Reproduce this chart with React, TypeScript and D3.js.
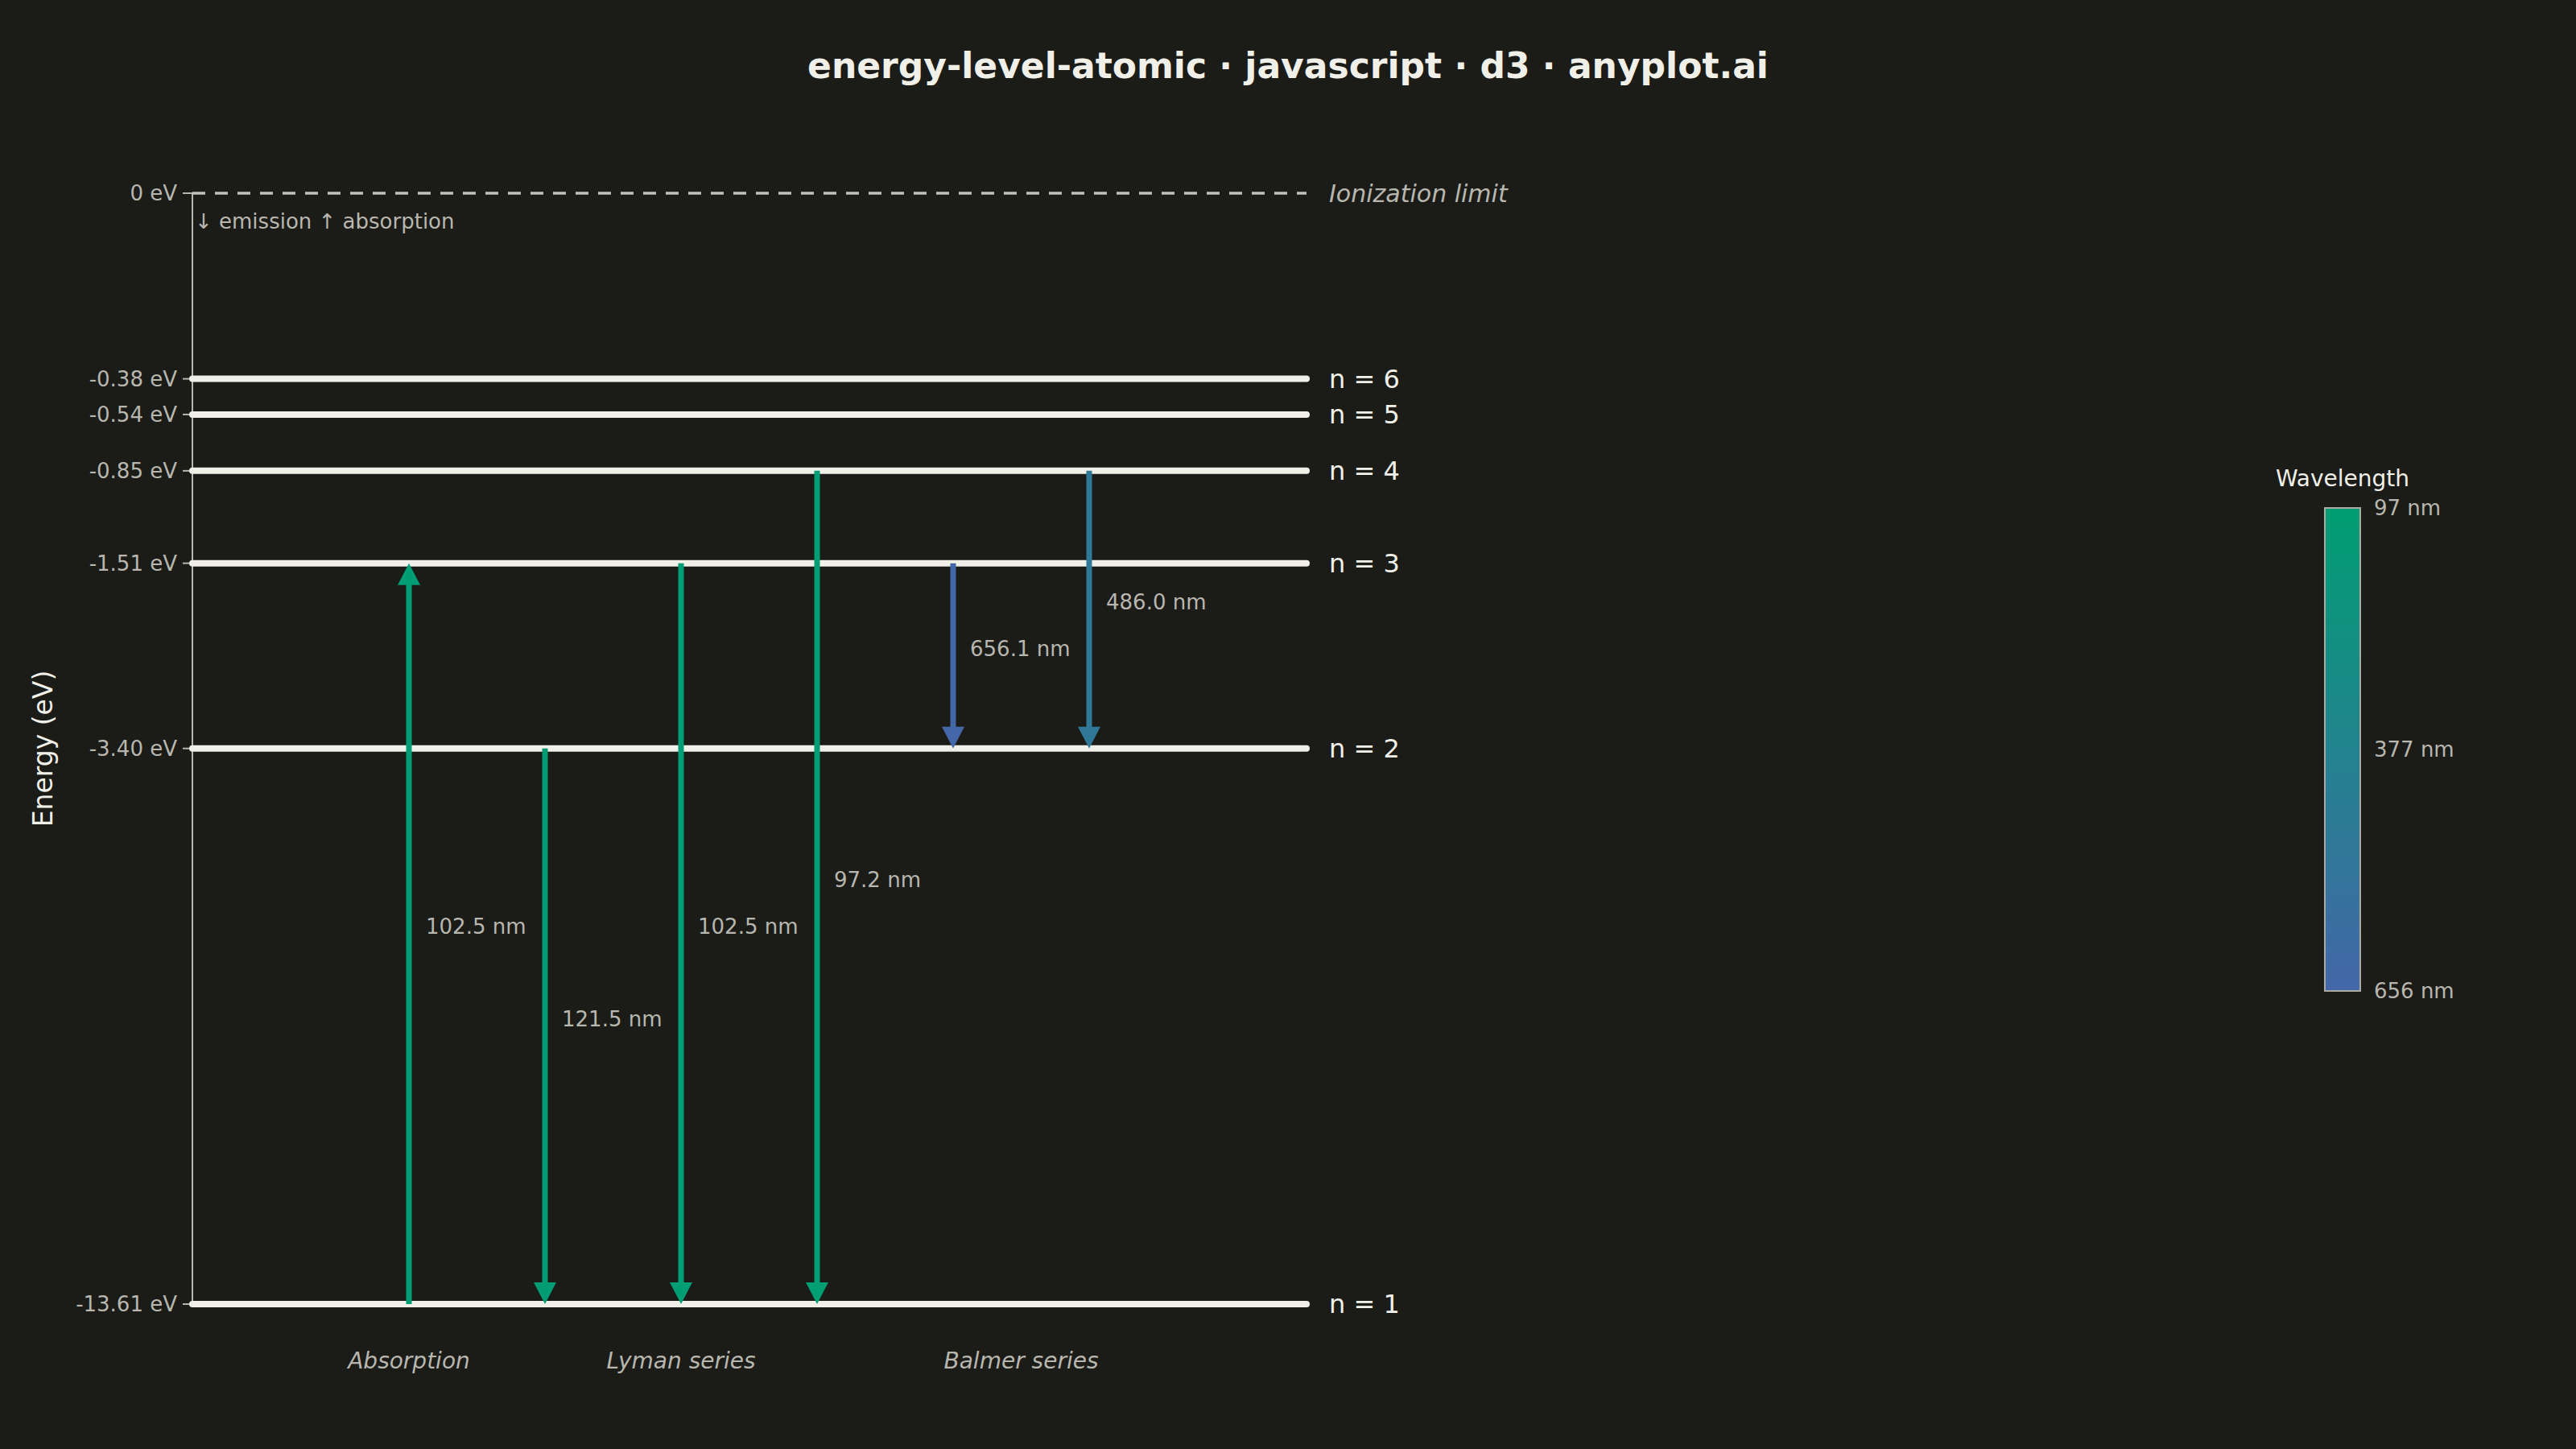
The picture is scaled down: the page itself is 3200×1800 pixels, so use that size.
import React, { useEffect } from "react";
import * as d3 from "d3";

const levelN = [1, 2, 3, 4, 5, 6];
const levelEnergy = [-13.61, -3.4, -1.51, -0.85, -0.54, -0.38];

const transitionIds = ["abs13", "ly21", "ly31", "ly41", "ba32", "ba42"];
const transitionFrom = [1, 2, 3, 4, 3, 4];
const transitionTo = [3, 1, 1, 1, 2, 2];
const transitionNm = [102.5, 121.5, 102.5, 97.2, 656.1, 486.0];
const transitionGroup = ["Absorption", "Lyman series", "Lyman series", "Lyman series", "Balmer series", "Balmer series"];

const groupNames = ["Absorption", "Lyman series", "Balmer series"];

const W = 3200;
const H = 1800;
const BG = "#1B1B18";
const INK = "#F0EFE8";
const SOFT = "#B8B7AF";
const FONT = "'DejaVu Sans', sans-serif";

export default function App() {
  useEffect(() => {
    document.body.style.margin = "0";
    document.body.style.background = BG;
  }, []);

  const axisX = 239;
  const lineRight = 1623;
  const y = d3.scaleSqrt().domain([0, 13.61]).range([240, 1620]);
  const yE = (e: number) => y(-e);
  const x = d3.scalePoint<string>().domain(transitionIds).range([508, 1353]);

  const wlExtent = d3.extent(transitionNm) as [number, number];
  const color = d3
    .scaleLinear<string>()
    .domain(wlExtent)
    .range(["#009E73", "#4467A8"])
    .interpolate(d3.interpolateRgb);

  const energyOf = (n: number) => levelEnergy[levelN.indexOf(n)];

  const barX = 2888;
  const barW = 44;
  const cb = d3.scaleLinear().domain(wlExtent).range([631, 1231]);
  const cbTicks = [wlExtent[0], (wlExtent[0] + wlExtent[1]) / 2, wlExtent[1]];
  const gradStops = d3.range(0, 1.0001, 0.1).map((t) => ({
    t,
    c: color(wlExtent[0] + t * (wlExtent[1] - wlExtent[0])),
  }));

  const headLen = 27;
  const headHalf = 14;

  return (
    <svg width={W} height={H} style={{ display: "block", background: BG }} fontFamily={FONT}>
      <rect x={0} y={0} width={W} height={H} fill={BG} />
      <defs>
        <linearGradient id="wlgrad" x1="0" y1="0" x2="0" y2="1">
          {gradStops.map((s, i) => (
            <stop key={i} offset={`${s.t * 100}%`} stopColor={s.c} />
          ))}
        </linearGradient>
      </defs>

      <text x={1600} y={97} textAnchor="middle" fontSize={44} fontWeight="bold" fill={INK}>
        energy-level-atomic · javascript · d3 · anyplot.ai
      </text>

      {/* axis */}
      <line x1={axisX} x2={axisX} y1={y(0)} y2={y(13.61)} stroke={SOFT} strokeWidth={2} />
      <g>
        {[0, ...levelEnergy].map((e, i) => (
          <g key={i}>
            <line x1={axisX - 12} x2={axisX} y1={yE(e)} y2={yE(e)} stroke={SOFT} strokeWidth={2} />
            <text x={axisX - 19} y={yE(e)} dy="0.35em" textAnchor="end" fontSize={26} fill={SOFT}>
              {e === 0 ? "0 eV" : `${e.toFixed(2)} eV`}
            </text>
          </g>
        ))}
      </g>
      <text
        transform={`translate(53,${(y(0) + y(13.61)) / 2}) rotate(-90)`}
        textAnchor="middle"
        dy="0.35em"
        fontSize={33}
        fill={INK}
      >
        Energy (eV)
      </text>

      {/* ionization limit */}
      <line
        x1={axisX}
        x2={lineRight}
        y1={y(0)}
        y2={y(0)}
        stroke="#C2C1B9"
        strokeWidth={3.5}
        strokeDasharray="16,12"
      />
      <text x={1651} y={y(0)} dy="0.35em" fontSize={30} fontStyle="italic" fill={SOFT}>
        Ionization limit
      </text>
      <text x={axisX + 3} y={y(0) + 35} dy="0.35em" fontSize={26} fill={SOFT}>
        ↓ emission ↑ absorption
      </text>

      {/* levels */}
      {levelN.map((n, i) => (
        <g key={n}>
          <line
            x1={axisX}
            x2={lineRight}
            y1={yE(levelEnergy[i])}
            y2={yE(levelEnergy[i])}
            stroke={INK}
            strokeWidth={8}
            strokeLinecap="round"
          />
          <text x={1651} y={yE(levelEnergy[i])} dy="0.35em" fontSize={32} fill={INK}>
            {`n = ${n}`}
          </text>
        </g>
      ))}

      {/* transitions */}
      {transitionIds.map((id, i) => {
        const cx = x(id) as number;
        const y1 = yE(energyOf(transitionFrom[i]));
        const y2 = yE(energyOf(transitionTo[i]));
        const dir = y2 > y1 ? 1 : -1;
        const baseY = y2 - dir * headLen;
        const c = color(transitionNm[i]);
        const head = d3.path();
        head.moveTo(cx, y2);
        head.lineTo(cx - headHalf, baseY);
        head.lineTo(cx + headHalf, baseY);
        head.closePath();
        return (
          <g key={id}>
            <line x1={cx} x2={cx} y1={y1} y2={baseY + dir * 2} stroke={c} strokeWidth={7} />
            <path d={head.toString()} fill={c} />
            <text x={cx + 21} y={(y1 + y2) / 2} fontSize={26} fill={SOFT}>
              {`${transitionNm[i].toFixed(1)} nm`}
            </text>
          </g>
        );
      })}

      {/* group labels */}
      {groupNames.map((g) => {
        const xs = transitionIds.filter((_, i) => transitionGroup[i] === g).map((id) => x(id) as number);
        return (
          <text key={g} x={d3.mean(xs) as number} y={1700} textAnchor="middle" fontSize={28} fontStyle="italic" fill={SOFT}>
            {g}
          </text>
        );
      })}

      {/* colorbar */}
      <text x={barX + barW / 2} y={604} textAnchor="middle" fontSize={28} fill={INK}>
        Wavelength
      </text>
      <rect x={barX} y={cb(wlExtent[0])} width={barW} height={cb(wlExtent[1]) - cb(wlExtent[0])} fill="url(#wlgrad)" stroke="#AAA9A2" strokeWidth={2} />
      {cbTicks.map((t, i) => (
        <text key={i} x={barX + barW + 17} y={cb(t)} dy="0.35em" fontSize={26} fill={SOFT}>
          {`${Math.round(t)} nm`}
        </text>
      ))}
    </svg>
  );
}
